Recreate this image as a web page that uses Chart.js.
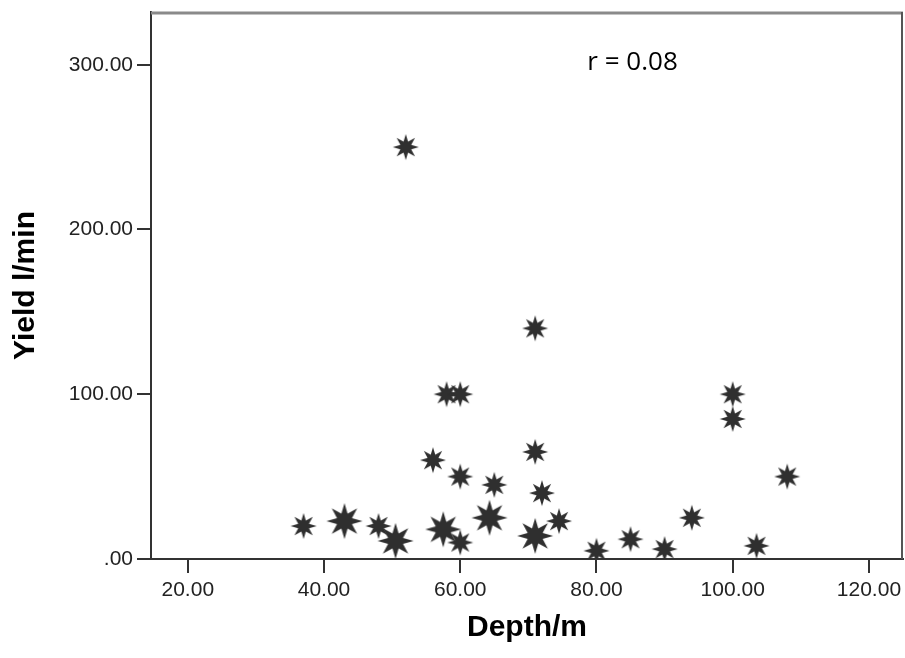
<!DOCTYPE html>
<html lang="en">

<head>
    <meta charset="UTF-8">
    <title>Yield vs Depth</title>
    <style>
        body { margin: 0; background: #fff; }
        #grafico { display: block; }
    </style>
</head>

<body>
    <canvas id="grafico" width="905" height="658"></canvas>
</body>

</html>
<script src="https://cdn.jsdelivr.net/npm/chart.js"></script>
<script>

    // depth (m), yield (l/min), and how many cases share the star (big star = 2)
    const profundidade = [37, 43, 48, 50.5, 52, 56, 57.5, 58, 60, 60, 60, 64.3, 65, 71, 71, 71, 72, 74.5, 80, 85, 90, 94, 100, 100, 103.5, 108];
    const vazao = [20, 23, 20, 11, 250, 60, 18, 100, 100, 50, 10, 25, 45, 140, 65, 14, 40, 23, 5, 12, 6, 25, 100, 85, 8, 50];
    const casos = [1, 2, 1, 2, 1, 1, 2, 1, 1, 1, 1, 2, 1, 1, 1, 2, 1, 1, 1, 1, 1, 1, 1, 1, 1, 1];

    const ticksX = [20, 40, 60, 80, 100, 120];
    const ticksY = [0, 100, 200, 300];
    const textoR = 'r = 0.08';

    function fazEstrela(raio) {
        const c = document.createElement('canvas');
        c.width = raio * 2 + 2;
        c.height = raio * 2 + 2;
        const ctx = c.getContext('2d');
        const cx = c.width / 2, cy = c.height / 2;
        ctx.beginPath();
        for (let i = 0; i < 16; i++) {
            const r = i % 2 == 0 ? raio : raio * 0.45;
            const a = -Math.PI / 2 + i * Math.PI / 8;
            ctx.lineTo(cx + r * Math.cos(a), cy + r * Math.sin(a));
        }
        ctx.closePath();
        ctx.fillStyle = '#2f2f2f';
        ctx.fill();
        return c;
    }

    const estrelaPequena = fazEstrela(13);
    const estrelaGrande = fazEstrela(18);

    const pontos = [];
    for (let i = 0; i < profundidade.length; i++) {
        pontos.push({ x: profundidade[i], y: vazao[i] });
    }

    const moldura = {
        id: 'moldura',
        afterDraw(chart) {
            const { ctx, chartArea: a } = chart;
            ctx.save();
            ctx.strokeStyle = '#8a8a8a';
            ctx.lineWidth = 3;
            ctx.beginPath();
            ctx.moveTo(a.left, a.top + 1);
            ctx.lineTo(a.right, a.top + 1);
            ctx.stroke();
            ctx.strokeStyle = '#555';
            ctx.lineWidth = 2;
            ctx.beginPath();
            ctx.moveTo(a.right - 1, a.top);
            ctx.lineTo(a.right - 1, a.bottom);
            ctx.stroke();

            // r label, placed in data coordinates
            const sx = chart.scales.x, sy = chart.scales.y;
            ctx.fillStyle = '#000';
            ctx.font = '26px "Open Sans"';
            ctx.textAlign = 'center';
            ctx.textBaseline = 'middle';
            ctx.fillText(textoR, sx.getPixelForValue(85.3), sy.getPixelForValue(301));
            ctx.restore();
        }
    };

    const fonteTick = { family: 'Liberation Sans', size: 21 };

    new Chart(document.getElementById('grafico'), {
        type: 'scatter',
        data: {
            datasets: [{
                data: pontos,
                pointStyle: (ctx) => casos[ctx.dataIndex] > 1 ? estrelaGrande : estrelaPequena,
                pointRadius: 13
            }]
        },
        options: {
            responsive: false,
            animation: false,
            layout: { autoPadding: false, padding: { top: 12, right: 2, left: 0, bottom: 0 } },
            plugins: {
                legend: { display: false },
                tooltip: { enabled: false }
            },
            scales: {
                x: {
                    type: 'linear',
                    min: 14.6,
                    max: 125,
                    afterFit: (s) => { s.height = 99; s.paddingLeft = 0; s.paddingRight = 0; },
                    afterBuildTicks: (s) => { s.ticks = ticksX.map(v => ({ value: v })); },
                    ticks: {
                        color: '#222',
                        font: fonteTick,
                        padding: 5,
                        maxRotation: 0,
                        callback: (v) => v.toFixed(2)
                    },
                    grid: { drawOnChartArea: false, color: '#333', lineWidth: 2, tickLength: 14 },
                    border: { color: '#333', width: 2 },
                    title: {
                        display: true,
                        text: 'Depth/m',
                        color: '#000',
                        font: { family: 'Liberation Sans', size: 30, weight: 'bold' },
                        padding: { top: 0, bottom: 12 }
                    }
                },
                y: {
                    min: 0,
                    max: 332,
                    afterFit: (s) => { s.width = 151; s.paddingTop = 0; s.paddingBottom = 0; },
                    afterBuildTicks: (s) => { s.ticks = ticksY.map(v => ({ value: v })); },
                    ticks: {
                        color: '#222',
                        font: fonteTick,
                        padding: 4,
                        callback: (v) => v == 0 ? '.00' : v.toFixed(2)
                    },
                    grid: { drawOnChartArea: false, color: '#333', lineWidth: 2, tickLength: 14 },
                    border: { color: '#333', width: 2 },
                    title: {
                        display: true,
                        text: 'Yield l/min',
                        color: '#000',
                        font: { family: 'Liberation Sans', size: 30, weight: 'bold' },
                        padding: { top: 8, bottom: 0 }
                    }
                }
            }
        },
        plugins: [moldura]
    });
</script>
